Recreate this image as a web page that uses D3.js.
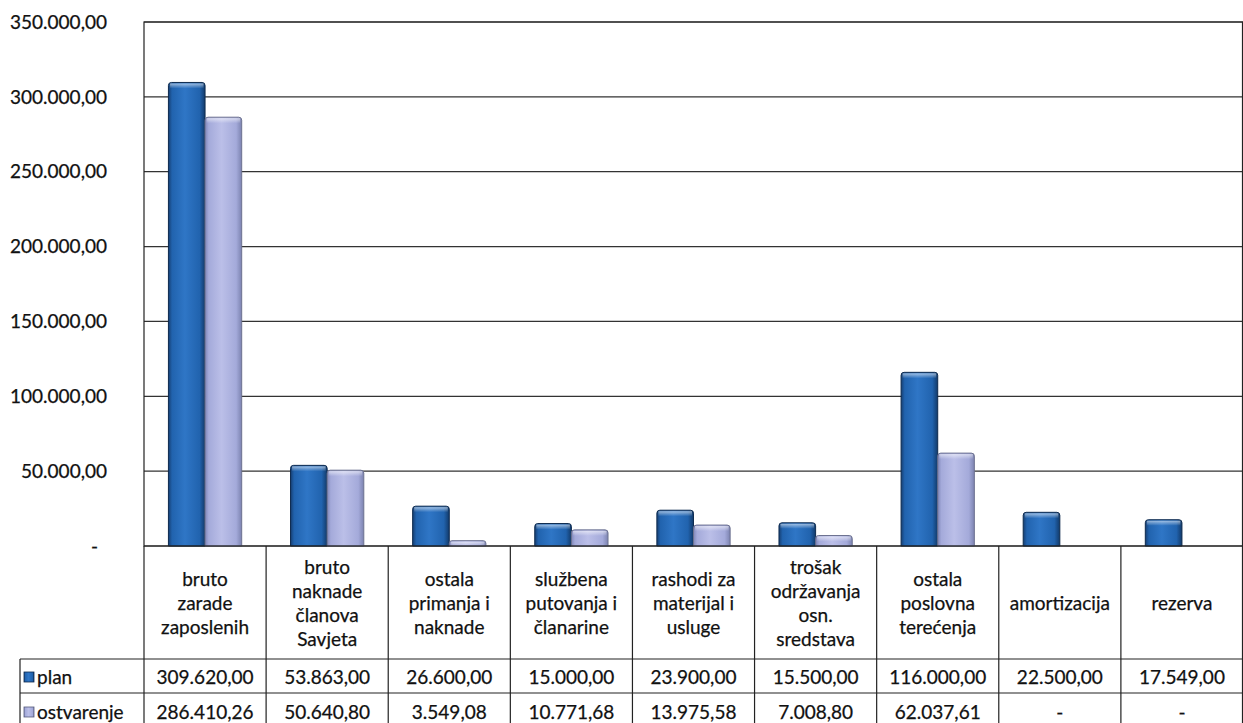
<!DOCTYPE html>
<html>
<head>
<meta charset="utf-8">
<script src="https://cdn.jsdelivr.net/npm/d3@7"></script>
<style>
  body { margin: 0; background: #fff; }
  text { font-family: Lato, "Open Sans", sans-serif; fill: #111; stroke: #111; stroke-width: 0.25px; }
</style>
</head>
<body>
<svg id="chart" width="1243" height="723"></svg>
<script>
// chart data
const categories = [
    ['bruto', 'zarade', 'zaposlenih'],
    ['bruto', 'naknade', 'članova', 'Savjeta'],
    ['ostala', 'primanja i', 'naknade'],
    ['službena', 'putovanja i', 'članarine'],
    ['rashodi za', 'materijal i', 'usluge'],
    ['trošak', 'održavanja', 'osn.', 'sredstava'],
    ['ostala', 'poslovna', 'terećenja'],
    ['amortizacija'],
    ['rezerva']
];
const seriesNames = ['plan', 'ostvarenje'];
const planValues = [309620.00, 53863.00, 26600.00, 15000.00, 23900.00, 15500.00, 116000.00, 22500.00, 17549.00];
const ostvarenjeValues = [286410.26, 50640.80, 3549.08, 10771.68, 13975.58, 7008.80, 62037.61, null, null];
const yTicks = [0, 50000, 100000, 150000, 200000, 250000, 300000, 350000];

const locale = d3.formatLocale({decimal: ',', thousands: '.', grouping: [3], currency: ['', '']});
const fmt = locale.format(',.2f');
const fmtVal = v => (v == null || v === 0) ? '-' : fmt(v);

const svg = d3.select('#chart');
const plotLeft = 144, plotRight = 1243, plotTop = 22, plotBottom = 546;
const headerBottom = 659, row1Bottom = 693, row2Bottom = 731;
const legendLeft = 20;
const fs = '19px';

const keys = categories.map((c, i) => i);
const x0 = d3.scaleBand().domain(keys).range([plotLeft, plotRight]);
const bw = x0.bandwidth();
const x1 = d3.scaleBand().domain(seriesNames).range([bw * 0.2, bw * 0.8]);
const y = d3.scaleLinear().domain([0, 350000]).range([plotBottom, plotTop]);

// gradients for the bevelled bars
const defs = svg.append('defs');
function hGrad(id, stops) {
    const g = defs.append('linearGradient').attr('id', id)
        .attr('x1', '0%').attr('x2', '100%').attr('y1', '0%').attr('y2', '0%');
    stops.forEach(s => g.append('stop').attr('offset', s[0]).attr('stop-color', s[1]));
}
hGrad('gPlan', [['0%', '#163f73'], ['10%', '#2163ae'], ['45%', '#2f76c6'], ['85%', '#2163ae'], ['100%', '#123a6a']]);
hGrad('gOst', [['0%', '#7f86b8'], ['10%', '#a4aada'], ['45%', '#bbbfe8'], ['85%', '#a4aada'], ['100%', '#7c83b0']]);
const tg = defs.append('linearGradient').attr('id', 'gTop')
    .attr('x1', '0%').attr('x2', '0%').attr('y1', '0%').attr('y2', '100%');
tg.append('stop').attr('offset', '0%').attr('stop-color', '#fff').attr('stop-opacity', 0.55);
tg.append('stop').attr('offset', '100%').attr('stop-color', '#fff').attr('stop-opacity', 0);

// gridlines
svg.append('g')
    .selectAll('line')
    .data(yTicks)
    .enter()
    .append('line')
    .attr('x1', plotLeft).attr('x2', plotRight)
    .attr('y1', d => y(d)).attr('y2', d => y(d))
    .attr('stroke', '#333').attr('stroke-width', 1.2);

// y axis labels
svg.append('g')
    .selectAll('text')
    .data(yTicks)
    .enter()
    .append('text')
    .attr('x', d => d === 0 ? 98 : 107)
    .attr('y', d => y(d))
    .attr('dy', '0.35em')
    .attr('text-anchor', 'end')
    .style('font-size', fs)
    .text(d => d === 0 ? '-' : fmt(d));

// bars
const barData = [];
keys.forEach(i => {
    barData.push({i: i, s: 'plan', v: planValues[i]});
    barData.push({i: i, s: 'ostvarenje', v: ostvarenjeValues[i]});
});
const bars = svg.append('g')
    .selectAll('g')
    .data(barData.filter(d => d.v != null))
    .enter()
    .append('g')
    .attr('transform', d => `translate(${x0(d.i) + x1(d.s)},0)`);

function barPath(w, y0, y1) {
    const r = Math.min(3, (y1 - y0) / 2);
    return `M0,${y1}V${y0 + r}Q0,${y0} ${r},${y0}H${w - r}Q${w},${y0} ${w},${y0 + r}V${y1}Z`;
}
bars.append('path')
    .attr('d', d => barPath(x1.bandwidth(), y(d.v), y(0)))
    .attr('fill', d => d.s === 'plan' ? 'url(#gPlan)' : 'url(#gOst)')
    .attr('stroke', d => d.s === 'plan' ? '#0d2a4e' : '#6d7290')
    .attr('stroke-width', 1);
bars.append('rect')
    .attr('x', 1.5).attr('width', x1.bandwidth() - 3)
    .attr('y', d => y(d.v) + 1)
    .attr('height', d => Math.min(5, y(0) - y(d.v) - 1))
    .attr('fill', 'url(#gTop)');

// plot border
svg.append('rect')
    .attr('x', plotLeft).attr('y', plotTop)
    .attr('width', plotRight - plotLeft - 0.5).attr('height', plotBottom - plotTop)
    .attr('fill', 'none').attr('stroke', '#222').attr('stroke-width', 1.2);

// data table lines
const tbl = svg.append('g').attr('stroke', '#222').attr('stroke-width', 1.2);
tbl.append('line').attr('x1', legendLeft).attr('x2', plotRight).attr('y1', headerBottom).attr('y2', headerBottom);
tbl.append('line').attr('x1', legendLeft).attr('x2', plotRight).attr('y1', row1Bottom).attr('y2', row1Bottom);
tbl.append('line').attr('x1', legendLeft).attr('x2', legendLeft).attr('y1', headerBottom).attr('y2', row2Bottom);
tbl.selectAll('line.col')
    .data(keys.concat([keys.length]))
    .enter()
    .append('line')
    .attr('class', 'col')
    .attr('x1', d => d < keys.length ? x0(d) : plotRight - 0.5)
    .attr('x2', d => d < keys.length ? x0(d) : plotRight - 0.5)
    .attr('y1', plotBottom).attr('y2', row2Bottom);

// category headers
const lh = 24;
const heads = svg.append('g')
    .selectAll('text')
    .data(categories)
    .enter()
    .append('text')
    .attr('text-anchor', 'middle')
    .style('font-size', fs);
heads.each(function(lines, i) {
    const cy = (plotBottom + headerBottom) / 2 + 7 - (lines.length - 1) * lh / 2;
    d3.select(this).selectAll('tspan')
        .data(lines)
        .enter()
        .append('tspan')
        .attr('x', x0(i) + bw / 2)
        .attr('y', (d, j) => cy + j * lh)
        .text(d => d);
});

// value rows with legend keys
const rows = [
    {name: 'plan', values: planValues, cy: 677, grad: 'url(#gPlan)', stroke: '#0d2a4e'},
    {name: 'ostvarenje', values: ostvarenjeValues, cy: 712, grad: 'url(#gOst)', stroke: '#555a7a'}
];
rows.forEach(r => {
    svg.append('rect')
        .attr('x', 24).attr('y', r.cy - 5).attr('width', 10).attr('height', 10)
        .attr('fill', r.grad).attr('stroke', r.stroke).attr('stroke-width', 0.8);
    svg.append('text')
        .attr('x', 37).attr('y', r.cy).attr('dy', '0.35em')
        .style('font-size', fs)
        .text(r.name);
    svg.append('g')
        .selectAll('text')
        .data(r.values)
        .enter()
        .append('text')
        .attr('x', (d, i) => x0(i) + bw / 2)
        .attr('y', r.cy).attr('dy', '0.35em')
        .attr('text-anchor', 'middle')
        .style('font-size', fs)
        .text(d => fmtVal(d));
});
</script>
</body>
</html>
